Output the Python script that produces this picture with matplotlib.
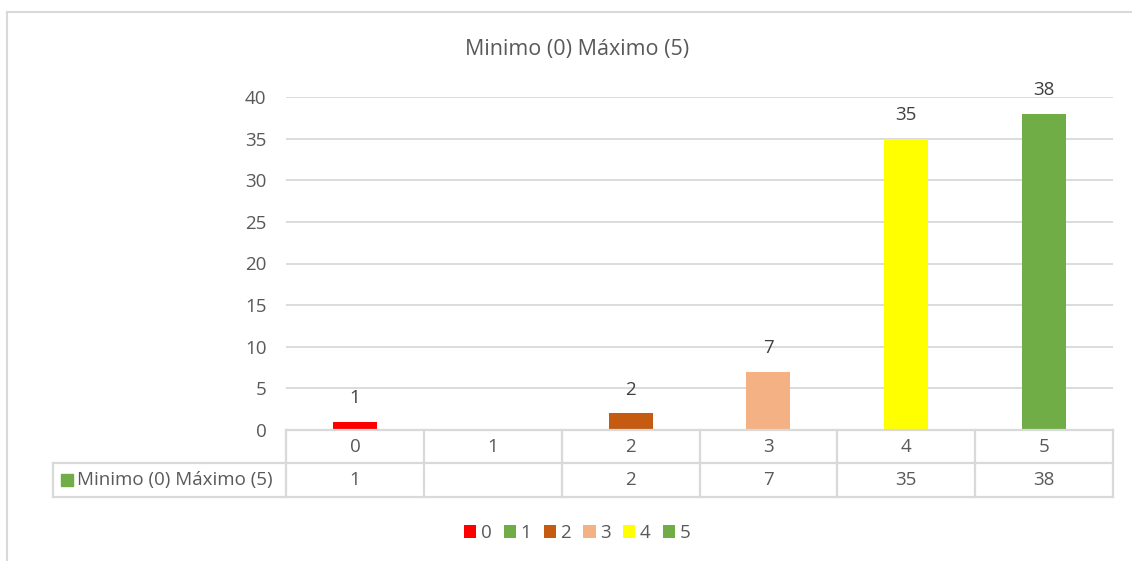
import matplotlib
matplotlib.use("Agg")
import matplotlib.pyplot as plt
from matplotlib.patches import Patch, Rectangle
from matplotlib.lines import Line2D

categories = ["0", "1", "2", "3", "4", "5"]
values = [1, None, 2, 7, 35, 38]
colors = ["#FF0000", "#70AD47", "#C55A11", "#F4B183", "#FFFF00", "#70AD47"]
series_name = "Minimo (0) Máximo (5)"
series_color = "#70AD47"
y_ticks = [0, 5, 10, 15, 20, 25, 30, 35, 40]

plt.rcParams["font.family"] = ["Open Sans", "DejaVu Sans"]
text_color = "#595959"
grid_color = "#D9D9D9"
fs = 13.5

W, H = 1132, 561
fig = plt.figure(figsize=(W / 100, H / 100), dpi=100)


def fx(px):
    return px / W


def fy(py):
    return 1 - py / H


left, right, top, bottom = 286, 1113, 97, 430
ax = fig.add_axes([fx(left), fy(bottom), fx(right - left), fy(top) - fy(bottom)])

x = list(range(len(categories)))
heights = [v if v is not None else 0 for v in values]
ax.bar(x, heights, width=0.32, color=colors, zorder=3)
for xi, v in zip(x, values):
    if v is None:
        continue
    ax.annotate(str(v), (xi, v), xytext=(0, 17), textcoords="offset points",
                ha="center", va="center", fontsize=fs, color="#404040",
                annotation_clip=False)

ax.set_xlim(-0.5, len(categories) - 0.5)
ax.set_ylim(0, 40)
ax.set_yticks(y_ticks)
ax.set_yticklabels([str(t) for t in y_ticks], fontsize=fs, color=text_color)
ax.tick_params(axis="y", length=0, pad=14)
ax.set_xticks([])
for s in ax.spines.values():
    s.set_visible(False)
ax.yaxis.grid(True, color=grid_color, linewidth=1.3, zorder=0)
ax.set_axisbelow(True)

# data table under the plot
row1 = -(463 - bottom) / (bottom - top)
row2 = -(497 - bottom) / (bottom - top)
tbl_left = (53 - left) / (right - left)
ncat = len(categories)
lk = dict(color=grid_color, linewidth=1.6, transform=ax.transAxes, clip_on=False, zorder=4)
ax.add_line(Line2D([0, 1], [0, 0], **lk))
ax.add_line(Line2D([tbl_left, 1], [row1, row1], **lk))
ax.add_line(Line2D([tbl_left, 1], [row2, row2], **lk))
ax.add_line(Line2D([tbl_left, tbl_left], [row1, row2], **lk))
for i in range(ncat + 1):
    xx = i / ncat
    ax.add_line(Line2D([xx, xx], [0, row2], **lk))
for i, (cat, v) in enumerate(zip(categories, values)):
    cx = (i + 0.5) / ncat
    ax.text(cx, row1 / 2, cat, transform=ax.transAxes, ha="center", va="center",
            fontsize=fs, color=text_color)
    if v is not None:
        ax.text(cx, (row1 + row2) / 2, str(v), transform=ax.transAxes, ha="center",
                va="center", fontsize=fs, color=text_color)

# series key in table
fig.patches.append(Rectangle((fx(61), fy(486)), fx(12), fy(474) - fy(486),
                             transform=fig.transFigure, color=series_color))
fig.text(fx(77), fy(480), series_name, ha="left", va="center", fontsize=fs, color=text_color)

fig.text(0.51, fy(50), series_name, ha="center", va="center", fontsize=15.5, color=text_color)

handles = [Patch(facecolor=c, edgecolor="none", label=cat) for cat, c in zip(categories, colors)]
fig.legend(handles=handles, loc="center", bbox_to_anchor=(0.51, fy(533)), ncol=6,
           frameon=False, fontsize=fs, handlelength=0.65, handleheight=0.65,
           handletextpad=0.25, columnspacing=0.65, labelcolor=text_color)

# chart border (top and left visible)
fig.add_artist(Line2D([fx(7), 1], [fy(12), fy(12)], color=grid_color, linewidth=1.5,
                      transform=fig.transFigure))
fig.add_artist(Line2D([fx(7), fx(7)], [0, fy(12)], color=grid_color, linewidth=1.5,
                      transform=fig.transFigure))

fig.savefig("out.png", dpi=100, facecolor="white")
